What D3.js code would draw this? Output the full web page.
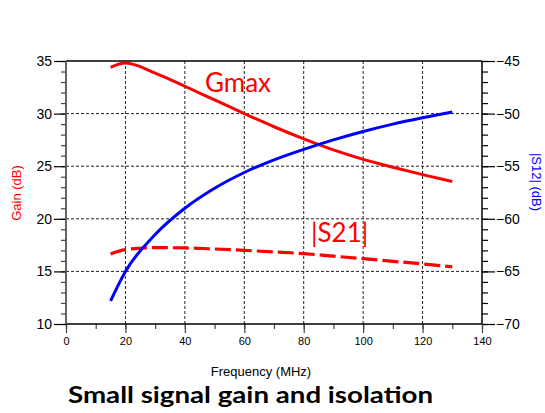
<!DOCTYPE html>
<html><head><meta charset="utf-8">
<script src="https://cdn.jsdelivr.net/npm/d3@7"></script>
<style>body{margin:0;background:#fff;} svg{display:block;}</style>
</head><body>
<svg id="c" width="545" height="413"></svg>
<script>
const freq = [15,20,30,40,50,60,70,80,90,100,110,120,130];
const gmax = [34.4,34.8,33.85,32.6,31.3,30.0,28.75,27.6,26.55,25.65,24.9,24.2,23.55];
const s21  = [16.66,17.07,17.26,17.23,17.13,17.0,16.85,16.69,16.45,16.21,15.96,15.71,15.43];
const s12  = [-67.8,-65.0,-61.5,-59.0,-57.1,-55.6,-54.4,-53.4,-52.5,-51.7,-51.0,-50.4,-49.85];
const xTicks = [0,20,40,60,80,100,120,140];
const yLeftTicks = [10,15,20,25,30,35];
const yRightTicks = [-70,-65,-60,-55,-50,-45];

const svg = d3.select("#c");
const L=66, R=482, T=61, B=324;
const x = d3.scaleLinear().domain([0,140]).range([L,R]);
const yl = d3.scaleLinear().domain([10,35]).range([B,T]);
const yr = d3.scaleLinear().domain([-70,-45]).range([B,T]);
const font = "'Liberation Sans', Arial, sans-serif";

// grid
const g = svg.append("g");
g.selectAll(".gx").data(xTicks.filter(d=>d>0&&d<140)).join("line")
  .attr("x1",d=>x(d)).attr("x2",d=>x(d)).attr("y1",T).attr("y2",B)
  .attr("stroke","#222").attr("stroke-width",1).attr("stroke-dasharray","3,2");
g.selectAll(".gy").data(yLeftTicks.filter(d=>d>10&&d<35)).join("line")
  .attr("x1",L).attr("x2",R).attr("y1",d=>yl(d)).attr("y2",d=>yl(d))
  .attr("stroke","#222").attr("stroke-width",1).attr("stroke-dasharray","3,2");

// axes
const axL = d3.axisLeft(yl).tickValues(yLeftTicks).tickSize(12).tickPadding(2);
const axLm = d3.axisLeft(yl).tickValues(d3.range(10,36,1)).tickSize(5).tickFormat("");
const axR = d3.axisRight(yr).tickValues(yRightTicks).tickSize(13).tickPadding(1);
const axRm = d3.axisRight(yr).tickValues(d3.range(-70,-44,1)).tickSize(6).tickFormat("");
const axB = d3.axisBottom(x).tickValues(xTicks).tickSize(9).tickPadding(4);
const axBm = d3.axisBottom(x).tickValues(d3.range(0,141,10)).tickSize(5).tickFormat("");

function style(sel, fs, col){
  sel.selectAll(".domain").remove();
  sel.selectAll("line").attr("stroke",col||"#000").attr("stroke-width",1.2);
  sel.selectAll("text").attr("font-family",font).attr("font-size",fs).attr("fill","#000");
}
svg.append("g").attr("transform",`translate(${L},0)`).call(axLm).call(s=>style(s,14,"#444"));
svg.append("g").attr("transform",`translate(${L},0)`).call(axL).call(s=>style(s,14,"#000"));
svg.append("g").attr("transform",`translate(${R},0)`).call(axRm).call(s=>style(s,14));
svg.append("g").attr("transform",`translate(${R},0)`).call(axR).call(s=>style(s,14));
svg.append("g").attr("transform",`translate(0,${B})`).call(axBm).call(s=>style(s,11,"#444"));
svg.append("g").attr("transform",`translate(0,${B})`).call(axB).call(s=>style(s,11,"#444"));

// frame lines
svg.append("line").attr("x1",L).attr("x2",R).attr("y1",T).attr("y2",T).attr("stroke","#000").attr("stroke-width",1.5);
svg.append("line").attr("x1",L).attr("x2",R).attr("y1",B).attr("y2",B).attr("stroke","#000").attr("stroke-width",1.5);
svg.append("line").attr("x1",L).attr("x2",L).attr("y1",T).attr("y2",B).attr("stroke","#555").attr("stroke-width",1.8);
svg.append("line").attr("x1",R).attr("x2",R).attr("y1",T).attr("y2",B).attr("stroke","#000").attr("stroke-width",1.5);

// curves
const lineL = d3.line().x((d,i)=>x(freq[i])).y(d=>yl(d)).curve(d3.curveMonotoneX);
const lineR = d3.line().x((d,i)=>x(freq[i])).y(d=>yr(d)).curve(d3.curveMonotoneX);
svg.append("path").datum(gmax).attr("d",lineL).attr("fill","none").attr("stroke","#ff0000").attr("stroke-width",3);
svg.append("path").datum(s21).attr("d",lineL).attr("fill","none").attr("stroke","#ff0000").attr("stroke-width",3.2).attr("stroke-dasharray","16,5");
svg.append("path").datum(s12).attr("d",lineR).attr("fill","none").attr("stroke","#0000ff").attr("stroke-width",3);

// labels
svg.append("text").attr("x",205).attr("y",92).attr("font-family","Lato, 'Open Sans', sans-serif").attr("font-size",26).attr("fill","#ff0000").text("Gmax");
svg.append("text").attr("x",311).attr("y",242).attr("font-family","Lato, 'Open Sans', sans-serif").attr("font-size",26).attr("fill","#ff0000").text("|S21|");

svg.append("text").attr("transform","translate(21,193) rotate(-90)").attr("text-anchor","middle")
  .attr("font-family",font).attr("font-size",13).attr("fill","#ff0000").text("Gain (dB)");
svg.append("text").attr("transform","translate(532,182) rotate(90)").attr("text-anchor","middle")
  .attr("font-family",font).attr("font-size",13).attr("fill","#0000ff").text("|S12| (dB)");
svg.append("text").attr("x",261).attr("y",376).attr("text-anchor","middle")
  .attr("font-family",font).attr("font-size",13).attr("fill","#000").text("Frequency (MHz)");
svg.append("text").attr("x",68).attr("y",403)
  .attr("font-family","Lato, 'Open Sans', sans-serif").attr("font-weight","bold").attr("font-size",22).attr("fill","#000")
  .attr("textLength",365).attr("lengthAdjust","spacingAndGlyphs").text("Small signal gain and isolation");
</script>
</body></html>
